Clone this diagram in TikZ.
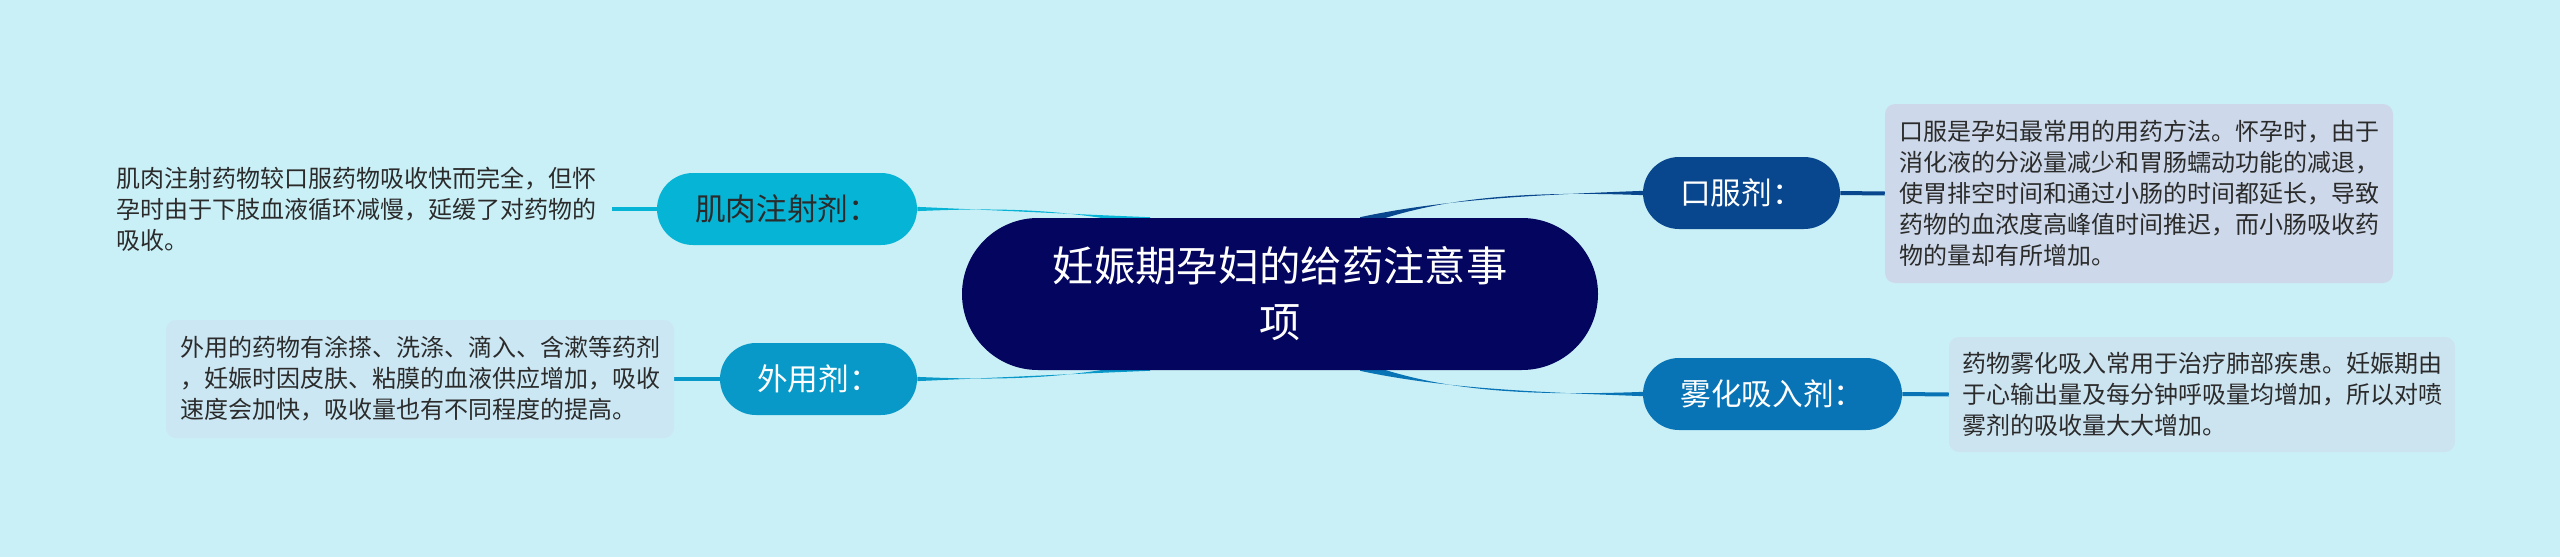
\documentclass[tikz,border=0pt]{standalone}
\usepackage{fontspec}
\setmainfont{Noto Sans CJK SC}
\pgfdeclarelayer{back}
\pgfdeclarelayer{bg}
\pgfsetlayers{back,bg,main}
\definecolor{bgc}{HTML}{CAF0F7}
\definecolor{rootc}{HTML}{03055E}
\definecolor{c1}{HTML}{06B4D6}
\definecolor{c2}{HTML}{0899C9}
\definecolor{c3}{HTML}{08468E}
\definecolor{c4}{HTML}{0874B5}
\definecolor{l2}{HTML}{CBE7F3}
\definecolor{l3}{HTML}{CDD9EA}
\definecolor{l4}{HTML}{CCE3F0}
\definecolor{leaftext}{HTML}{2B2B2B}
\begin{document}
\begin{tikzpicture}[x=0.75pt,y=-0.75pt]
\tikzset{
 root/.style={fill=rootc, text=white, rounded corners=57pt, minimum width=477pt, minimum height=114pt, font=\fontsize{31}{42}\selectfont, align=center, inner sep=0pt},
 branch/.style={rounded corners=27pt, minimum height=54pt, font=\fontsize{23}{27}\selectfont, inner sep=0pt, text=white},
 leaf/.style={rounded corners=7.5pt, font=\fontsize{18}{23.25}\selectfont, align=left, inner sep=0pt, text=leaftext},
 link/.style={line width=3pt},
}
\begin{pgfonlayer}{back}
\fill[bgc] (0,0) rectangle (2560,557);
\end{pgfonlayer}
\useasboundingbox (0,0) rectangle (2560,557);

% root
\node[root] (root) at (1280,294) {妊娠期孕妇的给药注意事\\项};
\coordinate (rA) at (1150,222);
\coordinate (rB) at (1150,366);
\coordinate (rC) at (1360,222);
\coordinate (rD) at (1360,366);

% branches
\node[branch, fill=c1, text=leaftext, minimum width=195pt] (im) at (787,209) {肌肉注射剂：};
\node[branch, fill=c2, minimum width=147.75pt] (ext) at (818.5,379) {外用剂：};
\node[branch, fill=c3, minimum width=147.75pt] (oral) at (1741.5,193) {口服剂：};
\node[branch, fill=c4, minimum width=194.25pt] (neb) at (1772.5,394) {雾化吸入剂：};

% leaves
\node[leaf, anchor=west, inner xsep=11.25pt] (imL) at (101,209) {肌肉注射药物较口服药物吸收快而完全，但怀\\孕时由于下肢血液循环减慢，延缓了对药物的\\吸收。};
\node[leaf, fill=l2, minimum width=381pt, minimum height=88.5pt] (extL) at (420,379) {外用的药物有涂搽、洗涤、滴入、含漱等药剂\\，妊娠时因皮肤、粘膜的血液供应增加，吸收\\速度会加快，吸收量也有不同程度的提高。};
\node[leaf, fill=l3, minimum width=381pt, minimum height=134.25pt] (oralL) at (2139,193.5) {口服是孕妇最常用的用药方法。怀孕时，由于\\消化液的分泌量减少和胃肠蠕动功能的减退，\\使胃排空时间和通过小肠的时间都延长，导致\\药物的血浓度高峰值时间推迟，而小肠吸收药\\物的量却有所增加。};
\node[leaf, fill=l4, minimum width=379.5pt, minimum height=86.25pt] (nebL) at (2202,394.5) {药物雾化吸入常用于治疗肺部疾患。妊娠期由\\于心输出量及每分钟呼吸量均增加，所以对喷\\雾剂的吸收量大大增加。};

\begin{pgfonlayer}{bg}
% tapered links root - branches
\fill[c1] ([yshift=-1.6pt]im.east) .. controls (1010,207) and (1070,210) .. ([yshift=-3.6pt]rA) -- ([yshift=3.6pt]rA) .. controls (1070,214) and (1010,211) .. ([yshift=1.6pt]im.east) -- cycle;
\fill[c2] ([yshift=1.6pt]ext.east) .. controls (1010,381) and (1070,378) .. ([yshift=3.6pt]rB) -- ([yshift=-3.6pt]rB) .. controls (1070,374) and (1010,377) .. ([yshift=-1.6pt]ext.east) -- cycle;
\fill[c3] ([yshift=-1.6pt]oral.west) .. controls (1530,191) and (1440,196) .. ([yshift=-3.6pt]rC) -- ([yshift=3.6pt]rC) .. controls (1440,200) and (1530,195) .. ([yshift=1.6pt]oral.west) -- cycle;
\fill[c4] ([yshift=1.6pt]neb.west) .. controls (1530,396) and (1440,392) .. ([yshift=3.6pt]rD) -- ([yshift=-3.6pt]rD) .. controls (1440,388) and (1530,392) .. ([yshift=-1.6pt]neb.west) -- cycle;
% branch - leaf links
\draw[link, c1] (im.west) -- (imL.east);
\draw[link, c2] (ext.west) -- (extL.east);
\draw[link, c3] (oral.east) -- (oralL.west);
\draw[link, c4] (neb.east) -- (nebL.west);
\end{pgfonlayer}
\end{tikzpicture}
\end{document}
